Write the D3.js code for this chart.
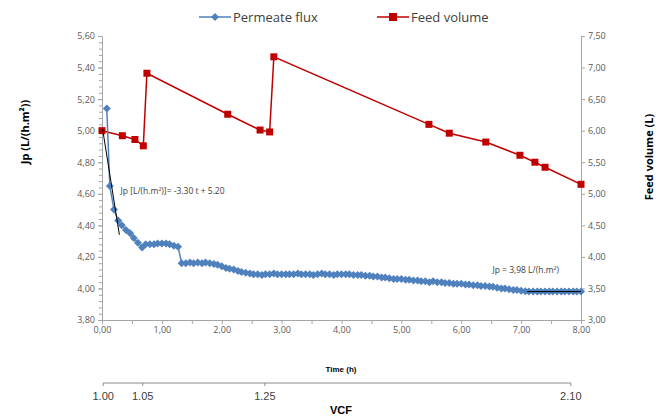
<!DOCTYPE html>
<html>
<head>
<meta charset="utf-8">
<script src="https://cdn.jsdelivr.net/npm/d3@7"></script>
<style>
  body { margin: 0; background: #fff; }
  svg { display: block; font-family: "Open Sans", sans-serif; }
  .axis path, .axis line { stroke: #a6a6a6; }
  .axis text { fill: #595959; font-size: 9px; font-family: "Open Sans", sans-serif; }
</style>
</head>
<body>
<svg id="chart" width="668" height="418"></svg>
<script>
  // DATA
  // permeate flux, time (h) and Jp (L/(h.m2))
  var fluxTime = [0.08, 0.13, 0.20, 0.27, 0.33, 0.40, 0.47, 0.53, 0.60, 0.67,
    0.73, 0.80, 0.87, 0.93, 1.00, 1.07, 1.13, 1.20, 1.27, 1.33,
    1.40, 1.47, 1.53, 1.60, 1.67, 1.73, 1.80, 1.87, 1.93, 2.00,
    2.07, 2.13, 2.20, 2.27, 2.33, 2.40, 2.47, 2.53, 2.60, 2.67,
    2.73, 2.80, 2.87, 2.93, 3.00, 3.07, 3.13, 3.20, 3.27, 3.33,
    3.40, 3.47, 3.53, 3.60, 3.67, 3.73, 3.80, 3.87, 3.93, 4.00,
    4.07, 4.13, 4.20, 4.27, 4.33, 4.40, 4.47, 4.53, 4.60, 4.67,
    4.73, 4.80, 4.87, 4.93, 5.00, 5.07, 5.13, 5.20, 5.27, 5.33,
    5.40, 5.47, 5.53, 5.60, 5.67, 5.73, 5.80, 5.87, 5.93, 6.00,
    6.07, 6.13, 6.20, 6.27, 6.33, 6.40, 6.47, 6.53, 6.60, 6.67,
    6.73, 6.80, 6.87, 6.93, 7.00, 7.07, 7.13, 7.20, 7.27, 7.33,
    7.40, 7.47, 7.53, 7.60, 7.67, 7.73, 7.80, 7.87, 7.93, 8.00];
  var fluxValue = [5.14, 4.65, 4.50, 4.43, 4.40, 4.37, 4.35, 4.32, 4.29, 4.26,
    4.28, 4.28, 4.28, 4.285, 4.285, 4.285, 4.28, 4.27, 4.265, 4.16,
    4.16, 4.165, 4.16, 4.165, 4.16, 4.165, 4.16, 4.155, 4.15, 4.14,
    4.13, 4.125, 4.12, 4.11, 4.105, 4.10, 4.095, 4.09, 4.09, 4.085,
    4.09, 4.09, 4.095, 4.09, 4.09, 4.09, 4.09, 4.09, 4.095, 4.09,
    4.09, 4.09, 4.085, 4.09, 4.095, 4.09, 4.09, 4.085, 4.09, 4.09,
    4.09, 4.09, 4.085, 4.085, 4.085, 4.08, 4.08, 4.075, 4.075, 4.07,
    4.07, 4.065, 4.06, 4.06, 4.06, 4.055, 4.055, 4.05, 4.05, 4.045,
    4.045, 4.04, 4.045, 4.04, 4.04, 4.035, 4.035, 4.03, 4.03, 4.03,
    4.025, 4.025, 4.02, 4.02, 4.015, 4.015, 4.013, 4.01, 4.005, 4.0,
    4.0, 3.995, 3.99, 3.99, 3.985, 3.983, 3.98, 3.98, 3.98, 3.98,
    3.98, 3.98, 3.98, 3.98, 3.98, 3.98, 3.98, 3.98, 3.98, 3.98];

  // feed volume, time (h) and volume (L)
  var feedTime = [0.00, 0.34, 0.55, 0.69, 0.75, 2.10, 2.64, 2.80, 2.87, 5.46, 5.80, 6.41, 6.98, 7.23, 7.40, 8.00];
  var feedValue = [6.00, 5.92, 5.86, 5.76, 6.91, 6.26, 6.01, 5.98, 7.17, 6.10, 5.96, 5.82, 5.61, 5.50, 5.42, 5.15];

  // trend lines [time, Jp]
  var trendInitial = [[0.01, 5.01], [0.29, 4.34]];
  var trendFinal = [[7.10, 3.98], [8.00, 3.98]];

  // tick labels
  var leftTicks = [3.8, 4.0, 4.2, 4.4, 4.6, 4.8, 5.0, 5.2, 5.4, 5.6];
  var rightTicks = [3.0, 3.5, 4.0, 4.5, 5.0, 5.5, 6.0, 6.5, 7.0, 7.5];
  var timeTicks = [0, 1, 2, 3, 4, 5, 6, 7, 8];
  var vcfLabels = ["1.00", "1.05", "1.25", "2.10"];
  var vcfTimes = [0.02, 0.68, 2.72, 7.83];

  // LAYOUT
  var svg = d3.select("#chart");
  var plotL = 102, plotR = 581, plotT = 36, plotB = 320;
  var blue = "#4f81bd", red = "#c00000";

  var x = d3.scaleLinear().domain([0, 8]).range([plotL, plotR]);
  var yL = d3.scaleLinear().domain([3.8, 5.6]).range([plotB, plotT]);
  var yR = d3.scaleLinear().domain([3.0, 7.5]).range([plotB, plotT]);

  var comma = function(f) {
    return function(d) { return d3.format(f)(d).replace(".", ","); };
  };

  // minor ticks on left axis
  svg.append("g").attr("class", "axis")
    .attr("transform", "translate(" + plotL + ",0)")
    .call(d3.axisLeft(yL).tickValues(d3.range(3.8, 5.601, 0.04)).tickSize(3).tickFormat(""))
    .select(".domain").remove();

  svg.append("g").attr("class", "axis")
    .attr("transform", "translate(" + plotL + ",0)")
    .call(d3.axisLeft(yL).tickValues(leftTicks).tickSize(4).tickSizeOuter(0)
      .tickPadding(3).tickFormat(comma(".2f")));

  svg.append("g").attr("class", "axis")
    .attr("transform", "translate(" + plotR + ",0)")
    .call(d3.axisRight(yR).tickValues(rightTicks).tickSize(4).tickSizeOuter(0)
      .tickPadding(3).tickFormat(comma(".2f")));

  // half-hour ticks on time axis
  svg.append("g").attr("class", "axis")
    .attr("transform", "translate(0," + plotB + ")")
    .call(d3.axisBottom(x).tickValues(d3.range(0, 8.01, 0.5)).tickSize(4).tickFormat(""))
    .select(".domain").remove();

  svg.append("g").attr("class", "axis")
    .attr("transform", "translate(0," + plotB + ")")
    .call(d3.axisBottom(x).tickValues(timeTicks).tickSize(0).tickSizeOuter(0)
      .tickPadding(7).tickFormat(comma(".2f")));

  // axis titles
  svg.append("text")
    .attr("transform", "translate(29,132) rotate(-90)")
    .attr("text-anchor", "middle")
    .attr("font-size", 11).attr("font-weight", "bold").attr("fill", "#000")
    .text("Jp (L/(h.m²))");

  svg.append("text")
    .attr("transform", "translate(653,157) rotate(-90)")
    .attr("text-anchor", "middle")
    .attr("font-size", 11).attr("font-weight", "bold").attr("fill", "#000")
    .text("Feed volume (L)");

  svg.append("text")
    .attr("x", 341).attr("y", 372)
    .attr("text-anchor", "middle")
    .attr("font-size", 8).attr("font-weight", "bold").attr("fill", "#000")
    .attr("font-family", "'Liberation Sans Narrow', Arial, sans-serif")
    .text("Time (h)");

  // VCF secondary axis
  var vcf = svg.append("g").attr("class", "vcf");
  vcf.append("line")
    .attr("x1", x(vcfTimes[0])).attr("x2", x(vcfTimes[vcfTimes.length - 1]))
    .attr("y1", 383).attr("y2", 383)
    .attr("stroke", "#8c8c8c");
  vcf.selectAll(".vt").data(vcfTimes).enter().append("line")
    .attr("x1", function(d) { return x(d); })
    .attr("x2", function(d) { return x(d); })
    .attr("y1", 383).attr("y2", 386)
    .attr("stroke", "#8c8c8c");
  vcf.selectAll("text").data(vcfLabels).enter().append("text")
    .attr("x", function(d, i) { return x(vcfTimes[i]); })
    .attr("y", 400)
    .attr("text-anchor", "middle")
    .attr("font-size", 11).attr("fill", "#404040")
    .attr("font-family", "'Liberation Sans Narrow', Arial, sans-serif")
    .text(function(d) { return d; });
  svg.append("text")
    .attr("x", 341).attr("y", 414)
    .attr("text-anchor", "middle")
    .attr("font-size", 11).attr("font-weight", "bold").attr("fill", "#000")
    .attr("font-family", "'Liberation Sans Narrow', Arial, sans-serif")
    .text("VCF");

  // SERIES
  var flux = fluxTime.map(function(t, i) { return {t: t, v: fluxValue[i]}; });
  var feed = feedTime.map(function(t, i) { return {t: t, v: feedValue[i]}; });

  var diamond = function(r) {
    return "M0," + (-r) + "L" + r + ",0L0," + r + "L" + (-r) + ",0Z";
  };

  // feed volume
  svg.append("path")
    .datum(feed)
    .attr("fill", "none").attr("stroke", red).attr("stroke-width", 1.5)
    .attr("d", d3.line().x(function(d) { return x(d.t); }).y(function(d) { return yR(d.v); }));
  svg.selectAll(".sq").data(feed).enter().append("rect")
    .attr("class", "sq")
    .attr("x", function(d) { return x(d.t) - 3.5; })
    .attr("y", function(d) { return yR(d.v) - 3.5; })
    .attr("width", 7).attr("height", 7)
    .attr("fill", red);

  // permeate flux
  svg.append("path")
    .datum(flux)
    .attr("fill", "none").attr("stroke", blue).attr("stroke-width", 1.5)
    .attr("d", d3.line().x(function(d) { return x(d.t); }).y(function(d) { return yL(d.v); }));
  svg.selectAll(".dm").data(flux).enter().append("path")
    .attr("class", "dm")
    .attr("transform", function(d) { return "translate(" + x(d.t) + "," + yL(d.v) + ")"; })
    .attr("d", diamond(4))
    .attr("fill", blue);

  // trend lines
  [trendInitial, trendFinal].forEach(function(tl) {
    svg.append("path")
      .datum(tl)
      .attr("fill", "none").attr("stroke", "#000").attr("stroke-width", 1)
      .attr("d", d3.line().x(function(d) { return x(d[0]); }).y(function(d) { return yL(d[1]); }));
  });

  svg.append("text")
    .attr("x", x(0.31)).attr("y", yL(4.6))
    .attr("font-size", 8.5).attr("fill", "#404040")
    .text("Jp [L/(h.m²)]= -3.30 t + 5.20");
  svg.append("text")
    .attr("x", x(6.52)).attr("y", yL(4.10))
    .attr("font-size", 8.5).attr("fill", "#404040")
    .text("Jp  = 3,98 L/(h.m²)");

  // LEGEND
  var legend = svg.append("g").attr("font-size", 13).attr("fill", "#404040");
  var lg1 = legend.append("g").attr("transform", "translate(199,17)");
  lg1.append("line").attr("x1", 0).attr("x2", 32).attr("stroke", blue).attr("stroke-width", 1.5);
  lg1.append("path").attr("transform", "translate(16,0)").attr("d", diamond(4)).attr("fill", blue);
  lg1.append("text").attr("x", 34).attr("y", 4.5).text("Permeate flux");

  var lg2 = legend.append("g").attr("transform", "translate(377,17)");
  lg2.append("line").attr("x1", 0).attr("x2", 32).attr("stroke", red).attr("stroke-width", 1.5);
  lg2.append("rect").attr("x", 12).attr("y", -4).attr("width", 8).attr("height", 8).attr("fill", red);
  lg2.append("text").attr("x", 34).attr("y", 4.5).text("Feed volume");
</script>
</body>
</html>
